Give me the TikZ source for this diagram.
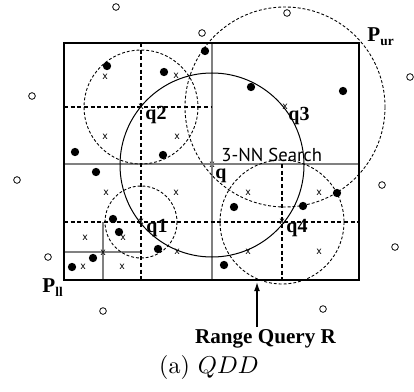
\documentclass[tikz,border=0pt]{standalone}
\usepackage{fontspec}
\setsansfont{PT Sans}
\newfontfamily\tms{Liberation Serif}
\usetikzlibrary{positioning,calc,arrows.meta}
\tikzset{bpt/.style={draw,circle,fill=black,minimum size=3.3pt,inner sep=0pt}  }
\tikzset{wpt/.style={draw,circle,fill=white,minimum size=3pt,inner sep=0pt,line width=0.35pt}  }
\tikzset{xpt/.style={inner sep=0pt,font=\sffamily\fontsize{4.8}{5}\selectfont}  }
\tikzset{lbl/.style={inner sep=0pt,anchor=base west,font=\tms\bfseries\fontsize{9}{10}\selectfont}  }
\tikzset{cell/.style={draw=gray,line width=0.55pt}  }
\tikzset{split/.style={dashed,line width=0.9pt,dash pattern=on 1.8pt off 1.2pt}  }
\tikzset{ball/.style={dashed,line width=0.4pt,dash pattern=on 1.3pt off 0.9pt}  }
\tikzset{>={Latex[length=4.5pt,width=2.6pt]}}

\begin{document}
\begin{tikzpicture}[x=0.45pt,y=-0.45pt]
	\useasboundingbox (0,0) rectangle (414,391);
		\coordinate (ll) at (64,280);
		\coordinate (ur) at (359,43);
		\coordinate (m) at (212,164);

		% query points
		\node[xpt] (q) at (212,165) {x};
		\node[xpt] (q1) at (141,222) {x};
		\node[xpt] (q2) at (141,107) {x};
		\node[xpt] (q3) at (285,107) {x};
		\node[xpt] (q4) at (282,222) {x};

		% cells
		\draw[cell] (ll |- m) -- (ur |- m);
		\draw[cell] (m |- ur) -- (m |- ll);
		\draw[cell] (103,222) -- (103,280);
		\draw[cell] (64,252) -- (141,252);
		\draw[split] (141,43) -- (141,280);
		\draw[split] (282,164) -- (282,280);
		\draw[split] (64,107) -- (212,107);
		\draw[split] (64,222) -- (359,222);
		\draw[line width=0.9pt] (ll) rectangle (ur);

		% balls
		\draw[ball] (q2) circle (57);
		\draw[ball] (q1) circle (36);
		\draw[ball] (q4) circle (62);
		\draw[ball] (q3) circle (100);
		\draw[line width=0.45pt] (q) circle (92);

		% objects
		\node[bpt] (b1) at (107,66) {};   \node[bpt] (b2) at (164,72) {};
		\node[bpt] (b3) at (75,152) {};   \node[bpt] (b4) at (163,155) {};
		\node[bpt] (b5) at (96,172) {};   \node[bpt] (b6) at (205,51) {};
		\node[bpt] (b7) at (251,87) {};   \node[bpt] (b8) at (343,91) {};
		\node[bpt] (b9) at (337,193) {};  \node[bpt] (b10) at (113,219) {};
		\node[bpt] (b11) at (119,232) {}; \node[bpt] (b12) at (158,249) {};
		\node[bpt] (b13) at (93,258) {};  \node[bpt] (b14) at (72,267) {};
		\node[bpt] (b15) at (234,207) {}; \node[bpt] (b16) at (303,206) {};
		\node[bpt] (b17) at (224,265) {};

		\node[wpt] (w1) at (116,7) {};    \node[wpt] (w2) at (202,33) {};
		\node[wpt] (w3) at (287,13) {};   \node[wpt] (w4) at (410,77) {};
		\node[wpt] (w5) at (32,96) {};    \node[wpt] (w6) at (17,180) {};
		\node[wpt] (w7) at (382,185) {};  \node[wpt] (w8) at (395,247) {};
		\node[wpt] (w9) at (48,257) {};   \node[wpt] (w10) at (103,311) {};
		\node[wpt] (w11) at (323,309) {};

		\node[xpt] (x1) at (105,77) {x};  \node[xpt] (x2) at (176,76) {x};
		\node[xpt] (x3) at (105,137) {x}; \node[xpt] (x4) at (177,137) {x};
		\node[xpt] (x5) at (106,193) {x}; \node[xpt] (x6) at (176,193) {x};
		\node[xpt] (x7) at (85,238) {x};  \node[xpt] (x8) at (123,238) {x};
		\node[xpt] (x9) at (103,253) {x}; \node[xpt] (x10) at (83,267) {x};
		\node[xpt] (x11) at (122,267) {x}; \node[xpt] (x12) at (177,252) {x};
		\node[xpt] (x13) at (248,193) {x}; \node[xpt] (x14) at (319,193) {x};
		\node[xpt] (x15) at (248,252) {x}; \node[xpt] (x16) at (319,252) {x};

		% labels
		\node[lbl] (lq) at (215,178) {q};
		\node[lbl] (lq1) at (146,232) {q1};
		\node[lbl] (lq2) at (145,119) {q2};
		\node[lbl] (lq3) at (288,120) {q3};
		\node[lbl] (lq4) at (286,232) {q4};
		\node[lbl,font=\tms\bfseries\fontsize{9.5}{10}\selectfont] (pur) at (367,42) {P\raisebox{-1.8pt}{\fontsize{6}{6}\selectfont ur}};
		\node[lbl,font=\tms\bfseries\fontsize{9.5}{10}\selectfont] (pll) at (42,292) {P\raisebox{-1.8pt}{\fontsize{6}{6}\selectfont ll}};
		\node[inner sep=0pt,anchor=base west,font=\sffamily\fontsize{8.4}{9}\selectfont] (nn) at (221,161) {3-NN Search};

		\node[inner sep=0pt,anchor=base,font=\tms\bfseries\fontsize{9.5}{10}\selectfont] (rq) at (265.5,343) {Range Query R};
		\coordinate (tail) at (257,327);
		\coordinate (tip) at (257,281);
		\draw[->,line width=0.9pt] (tail) -- (tip);

		\node[inner sep=0pt,anchor=base,font=\fontsize{10.8}{12}\selectfont] (cap) at (209,373) {(a) $QDD$};
	\end{tikzpicture}
\end{document}
